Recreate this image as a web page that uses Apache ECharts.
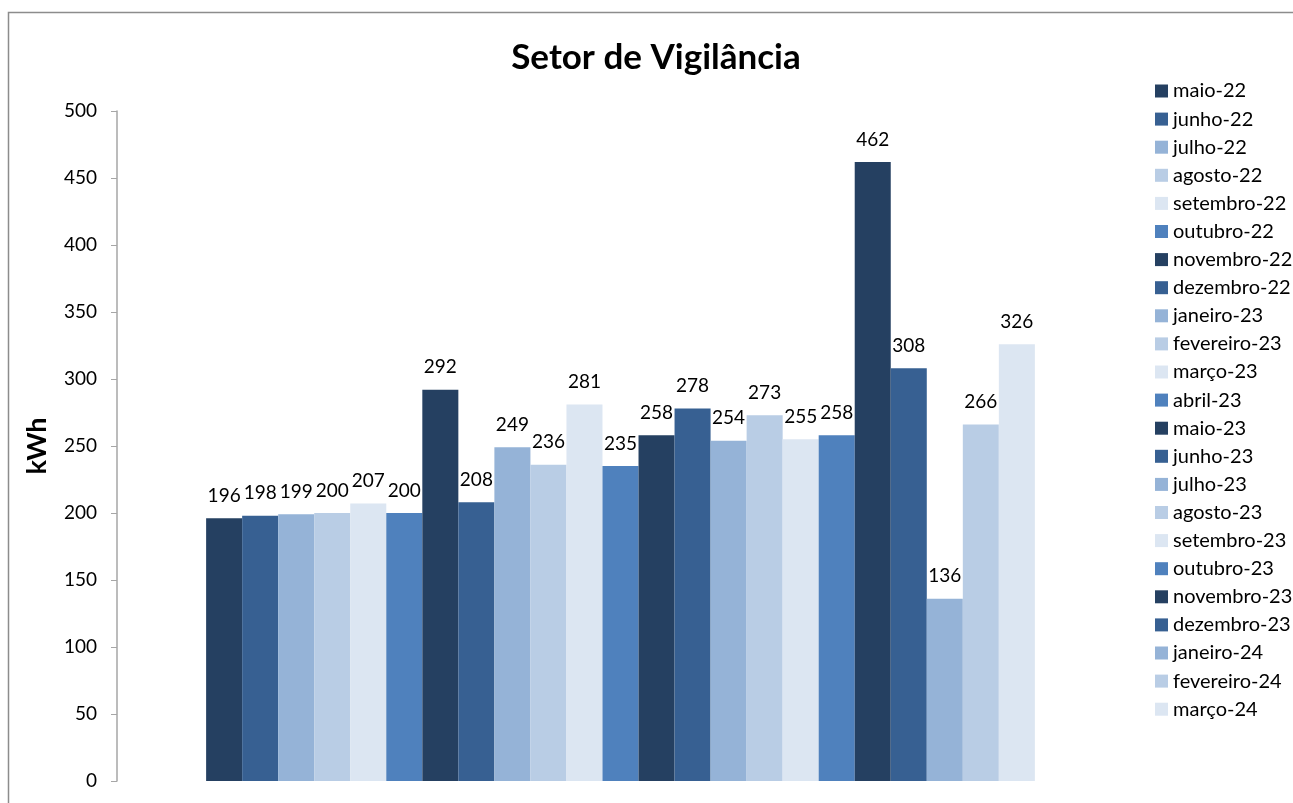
<!DOCTYPE html>
<html>
<head>
<meta charset="utf-8">
<script src="https://cdn.jsdelivr.net/npm/echarts@6/dist/echarts.min.js"></script>
<style>
  html, body { margin: 0; padding: 0; background: #fff; }
  #chart { width: 1293px; height: 803px; }
</style>
</head>
<body>
<div id="chart"></div>
<script>
// one category, one series per month
const months = [
  "maio-22", "junho-22", "julho-22", "agosto-22", "setembro-22", "outubro-22",
  "novembro-22", "dezembro-22", "janeiro-23", "fevereiro-23", "março-23", "abril-23",
  "maio-23", "junho-23", "julho-23", "agosto-23", "setembro-23", "outubro-23",
  "novembro-23", "dezembro-23", "janeiro-24", "fevereiro-24", "março-24"
];
const consumo = [196, 198, 199, 200, 207, 200, 292, 208, 249, 236, 281, 235,
  258, 278, 254, 273, 255, 258, 462, 308, 136, 266, 326];
const palette = ["#254061", "#376092", "#95B3D7", "#B9CDE5", "#DCE6F2", "#4F81BD"];
const yTicks = { min: 0, max: 500, step: 50 };

const font = "Lato, 'Open Sans', sans-serif";
const chart = echarts.init(document.getElementById("chart"));

const series = months.map((m, i) => ({
  name: m,
  type: "bar",
  data: [consumo[i]],
  barGap: "0%",
  barCategoryGap: "17.7%",
  itemStyle: { color: palette[i % palette.length] },
  label: {
    show: true,
    position: "top",
    distance: 13,
    color: "#000",
    fontSize: 19,
    fontFamily: font
  }
}));

chart.setOption({
  animation: false,
  color: palette,
  title: {
    text: "Setor de Vigilância",
    left: 651,
    top: 35,
    textAlign: "center",
    textStyle: { fontSize: 35, fontWeight: "bold", color: "#000", fontFamily: font }
  },
  graphic: [{
    type: "rect",
    shape: { x: 8.5, y: 12.5, width: 1300, height: 800 },
    style: { fill: "none", stroke: "#8c8c8c", lineWidth: 1.5 },
    silent: true
  }],
  legend: {
    orient: "vertical",
    left: 1150,
    top: 76,
    itemWidth: 13,
    itemHeight: 13,
    itemGap: 8.1,
    icon: "rect",
    textStyle: { fontSize: 20, lineHeight: 19, color: "#000", fontFamily: font },
    data: months
  },
  grid: { left: 117, right: 169, top: 111, bottom: 22, containLabel: false },
  xAxis: {
    type: "category",
    data: [""],
    axisLine: { show: false },
    axisTick: { show: false },
    axisLabel: { show: false }
  },
  yAxis: {
    type: "value",
    min: yTicks.min,
    max: yTicks.max,
    interval: yTicks.step,
    name: "kWh",
    nameLocation: "middle",
    nameGap: 66,
    nameRotate: 90,
    nameTextStyle: { fontSize: 27, fontWeight: "bold", color: "#000", fontFamily: font },
    axisLine: { show: true, lineStyle: { color: "#a6a6a6", width: 1.5 } },
    axisTick: { show: true, length: 6, lineStyle: { color: "#a6a6a6" } },
    axisLabel: { fontSize: 19, color: "#000", margin: 20, fontFamily: font },
    splitLine: { show: false }
  },
  series: series
});
</script>
</body>
</html>
